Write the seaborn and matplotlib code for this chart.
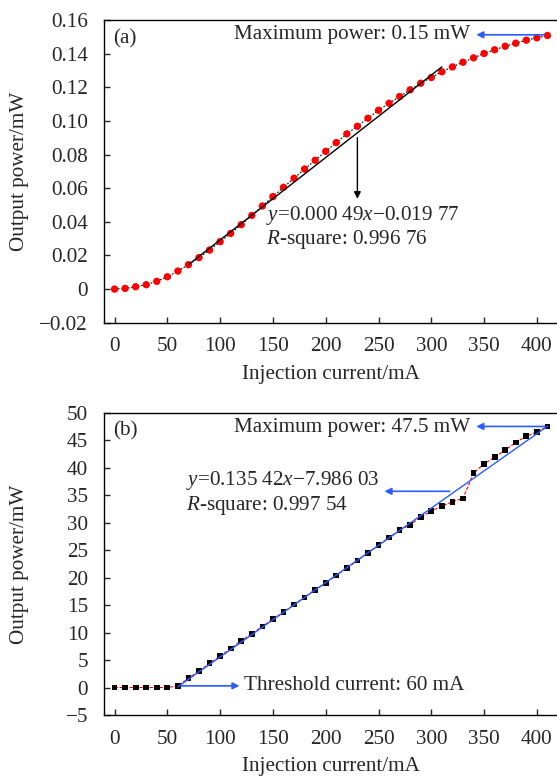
import numpy as np
import pandas as pd
import matplotlib
matplotlib.use("Agg")
import matplotlib.pyplot as plt
import seaborn as sns

# ---------------- data ----------------
current = list(range(0, 420, 10))
power_a = [0.0000, 0.0004, 0.0014, 0.0026, 0.0046, 0.0073, 0.0107, 0.0145, 0.0187, 0.0232,
           0.0282, 0.0331, 0.0383, 0.0438, 0.0494, 0.0550, 0.0605, 0.0659, 0.0714, 0.0766,
           0.0819, 0.0871, 0.0923, 0.0968, 0.1016, 0.1063, 0.1105, 0.1145, 0.1185, 0.1224,
           0.1258, 0.1292, 0.1321, 0.1349, 0.1375, 0.1401, 0.1423, 0.1444, 0.1462, 0.1480,
           0.1494, 0.1508]
power_b = [0.0, 0.0, 0.0, 0.0, 0.0, 0.0, 0.3, 1.7, 3.0, 4.4,
           5.7, 7.1, 8.5, 9.8, 11.1, 12.5, 13.7, 15.1, 16.4, 17.8,
           19.0, 20.4, 21.7, 23.1, 24.5, 25.9, 27.3, 28.6, 29.6, 31.0,
           32.1, 33.0, 33.8, 34.4, 39.0, 40.7, 41.9, 43.2, 44.6, 45.7,
           46.5, 47.5]

fit_a_x = [70, 310]
fit_a_slope, fit_a_icpt = 0.00049, -0.01977
fit_b_x = [60, 410]
fit_b_slope, fit_b_icpt = 0.13542, -7.98603

xticks = [0, 50, 100, 150, 200, 250, 300, 350, 400]
yticks_a = [-0.02, 0, 0.02, 0.04, 0.06, 0.08, 0.10, 0.12, 0.14, 0.16]
yticklabels_a = ["\u22120.02", "0", "0.02", "0.04", "0.06", "0.08", "0.10", "0.12", "0.14", "0.16"]
yticks_b = [-5, 0, 5, 10, 15, 20, 25, 30, 35, 40, 45, 50]
yticklabels_b = ["\u22125", "0", "5", "10", "15", "20", "25", "30", "35", "40", "45", "50"]

# ---------------- style ----------------
sns.set_style("ticks")
plt.rcParams['font.family'] = ['Liberation Serif', 'DejaVu Serif']
plt.rcParams['mathtext.fontset'] = 'custom'
plt.rcParams['mathtext.rm'] = 'Liberation Serif'
plt.rcParams['mathtext.it'] = 'Liberation Serif:italic'
FS = 15.2
BLUE = '#2a5cff'

W, H = 557, 778
fig = plt.figure(figsize=(W / 100, H / 100), dpi=100)

def rect(l, t, r, b):
    return [l / W, 1 - b / H, (r - l) / W, (b - t) / H]

ax1 = fig.add_axes(rect(104, 20, 558, 322.7))
ax2 = fig.add_axes(rect(104, 412.7, 558, 715))

df_a = pd.DataFrame({"current": current, "power": power_a})
df_b = pd.DataFrame({"current": current, "power": power_b})

# ---- panel (a)
sns.lineplot(data=df_a, x="current", y="power", ax=ax1, color="black",
             linestyle=(0, (1.5, 1.5)), lw=0.8, zorder=2)
sns.scatterplot(data=df_a, x="current", y="power", ax=ax1, color="#ff0000",
                s=28, edgecolor="none", zorder=3)
fa = np.array(fit_a_x, dtype=float)
ax1.plot(fa, fit_a_slope * fa + fit_a_icpt, color="black", lw=1.0, zorder=4)

ax1.set_xlim(-10, 420)
ax1.set_ylim(-0.02, 0.16)
ax1.set_yticks(yticks_a)
ax1.set_yticklabels(yticklabels_a)

ax1.text(-1, 0.1488, "(a)", fontsize=FS, va="center", ha="left")
ax1.annotate("", xy=(340, 0.1512), xytext=(410, 0.1512),
             arrowprops=dict(arrowstyle="-|>", color=BLUE, lw=1.2, mutation_scale=10))
ax1.text(337, 0.1512, "Maximum power: 0.15 mW", fontsize=FS, ha="right", va="center")
ax1.annotate("", xy=(230, 0.052), xytext=(230, 0.0917),
             arrowprops=dict(arrowstyle="-|>", color="black", lw=1.0, mutation_scale=10))
ax1.text(143, 0.044, r"$\mathit{y}$=0.000 49$\mathit{x}$" + "\u22120.019 77",
         fontsize=FS, ha="left", va="center")
ax1.text(143, 0.0292, r"$\mathit{R}$" + "-square: 0.996 76", fontsize=FS, ha="left", va="center")

# ---- panel (b)
sns.lineplot(data=df_b, x="current", y="power", ax=ax2, color="#ff0000",
             linestyle=(0, (3, 1.5)), lw=0.8, zorder=2)
sns.scatterplot(data=df_b, x="current", y="power", ax=ax2, color="black",
                marker="s", s=17, edgecolor="none", zorder=3)
fb = np.array(fit_b_x, dtype=float)
ax2.plot(fb, fit_b_slope * fb + fit_b_icpt, color=BLUE, lw=1.0, zorder=4)

ax2.set_xlim(-10, 420)
ax2.set_ylim(-5, 50)
ax2.set_yticks(yticks_b)
ax2.set_yticklabels(yticklabels_b)

ax2.text(-1, 46.7, "(b)", fontsize=FS, va="center", ha="left")
ax2.annotate("", xy=(340, 47.5), xytext=(410, 47.5),
             arrowprops=dict(arrowstyle="-|>", color=BLUE, lw=1.2, mutation_scale=10))
ax2.text(337, 47.3, "Maximum power: 47.5 mW", fontsize=FS, ha="right", va="center")
ax2.annotate("", xy=(253, 35.7), xytext=(320, 35.7),
             arrowprops=dict(arrowstyle="-|>", color=BLUE, lw=1.2, mutation_scale=10))
ax2.text(67.5, 37.7, r"$\mathit{y}$=0.135 42$\mathit{x}$" + "\u22127.986 03",
         fontsize=FS, ha="left", va="center")
ax2.text(67.5, 33.2, r"$\mathit{R}$" + "-square: 0.997 54", fontsize=FS, ha="left", va="center")
ax2.annotate("", xy=(121, 0.3), xytext=(60.5, 0.3),
             arrowprops=dict(arrowstyle="-|>", color=BLUE, lw=1.2, mutation_scale=10))
ax2.text(122.5, 0.3, "Threshold current: 60 mA", fontsize=FS, ha="left", va="center")

for ax in (ax1, ax2):
    ax.set_xticks(xticks)
    ax.tick_params(direction="in", length=4, width=1, labelsize=FS,
                   top=False, right=False)
    ax.tick_params(axis="x", pad=10.5)
    ax.tick_params(axis="y", pad=11.5)
    ax.set_xlabel("Injection current/mA", fontsize=FS, labelpad=6)
    ax.set_ylabel("Output power/mW", fontsize=FS)
    ax.yaxis.set_label_coords(-0.165, 0.5)
    for sp in ax.spines.values():
        sp.set_linewidth(1.0)
        sp.set_color("black")
    ax.set_facecolor("white")

fig.savefig("out.png", dpi=100, facecolor="white")
